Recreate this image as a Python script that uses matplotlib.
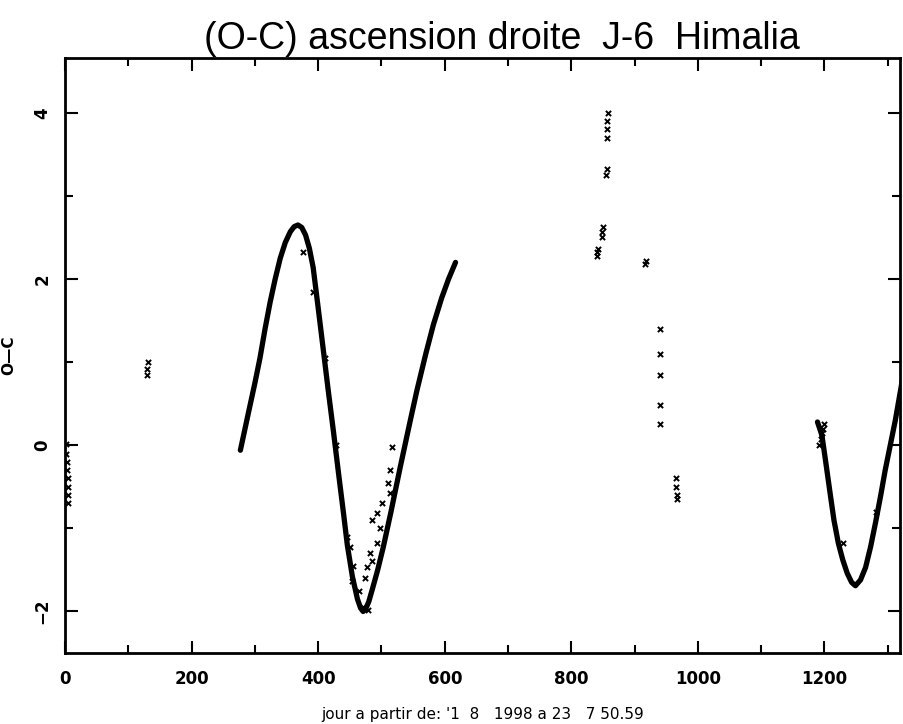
import numpy as np
import matplotlib.pyplot as plt

# fitted curve, first arc (days, O-C)
fit1_x = [277, 290, 300, 308, 316, 324, 332, 340, 348, 356, 362, 368, 374, 380,
          386, 392, 400, 408, 416, 424, 432, 440, 446, 454, 462, 467, 471, 475,
          480, 486, 494, 503, 515, 530, 545, 556, 570, 582, 595, 606, 617]
fit1_y = [-0.06, 0.4, 0.75, 1.05, 1.4, 1.72, 2.0, 2.25, 2.44, 2.57, 2.63, 2.65,
          2.62, 2.53, 2.37, 2.14, 1.65, 1.15, 0.65, 0.17, -0.33, -0.82, -1.2,
          -1.58, -1.85, -1.96, -2.0, -1.97, -1.88, -1.72, -1.5, -1.22, -0.8,
          -0.25, 0.28, 0.66, 1.1, 1.45, 1.77, 2.0, 2.2]

# fitted curve, second arc
fit2_x = [1189, 1196, 1202, 1209, 1215, 1222, 1229, 1236, 1243, 1249, 1257,
          1265, 1273, 1281, 1289, 1296, 1304, 1312, 1323, 1330]
fit2_y = [0.28, 0.12, -0.2, -0.58, -0.9, -1.18, -1.38, -1.54, -1.65, -1.69,
          -1.62, -1.47, -1.22, -0.92, -0.6, -0.3, 0.0, 0.3, 0.78, 1.05]

# observations
obs_x = [2, 2, 3, 3, 4, 4, 5, 5,
         130, 130, 131,
         376, 392, 410, 428, 445, 450, 453, 455, 465, 470, 474, 477, 478,
         482, 485, 485, 493, 493, 498, 501, 511, 513, 514, 517,
         840, 841, 842, 848, 849, 850, 855, 856, 856, 857, 857, 858,
         917, 918, 940, 940, 940, 940, 940,
         966, 966, 967, 967,
         1192, 1194, 1196, 1198, 1200, 1230, 1281]
obs_y = [0.02, -0.1, -0.2, -0.3, -0.4, -0.5, -0.6, -0.7,
         0.85, 0.92, 1.0,
         2.33, 1.84, 1.05, 0.0, -1.1, -1.23, -1.63, -1.45, -1.75, -1.95, -1.6, -1.47, -1.98,
         -1.3, -0.9, -1.39, -0.82, -1.18, -1.0, -0.7, -0.46, -0.3, -0.58, -0.02,
         2.28, 2.32, 2.36, 2.5, 2.56, 2.62, 3.25, 3.32, 3.7, 3.8, 3.9, 4.0,
         2.18, 2.22, 1.4, 1.1, 0.85, 0.48, 0.25,
         -0.4, -0.5, -0.6, -0.65,
         0.0, 0.08, 0.15, 0.2, 0.25, -1.17, -0.8]

fig = plt.figure(figsize=(9.04, 7.24), dpi=100)
ax = fig.add_axes([0.072, 0.098, 0.924, 0.822])

ax.plot(fit1_x, fit1_y, color='black', lw=3.8, solid_capstyle='round', solid_joinstyle='round')
ax.plot(fit2_x, fit2_y, color='black', lw=3.8, solid_capstyle='round', solid_joinstyle='round')
ax.scatter(obs_x, obs_y, marker='x', s=14, color='black', linewidths=1.4, zorder=3)

ax.set_xlim(0, 1320)
ax.set_ylim(-2.5, 4.66)
ax.set_xticks([0, 200, 400, 600, 800, 1000, 1200])
ax.set_xticks(np.arange(100, 1400, 200), minor=True)
ax.set_yticks([-2, 0, 2, 4])
ax.set_yticks([-1, 1, 3], minor=True)
ax.tick_params(which='both', direction='in', top=True, right=True, width=1.5)
ax.tick_params(which='major', length=9)
ax.tick_params(which='minor', length=6)
ax.tick_params(axis='x', pad=12)
ax.tick_params(axis='y', pad=10)
for lbl in ax.get_xticklabels():
    lbl.set_fontweight('bold')
    lbl.set_fontsize(12)
for lbl in ax.get_yticklabels():
    lbl.set_fontweight('bold')
    lbl.set_fontsize(12)
    lbl.set_rotation(90)
    lbl.set_va('center')
for s in ax.spines.values():
    s.set_linewidth(2)

ax.set_xlabel("jour a partir de: '1  8   1998 a 23   7 50.59", fontsize=11, labelpad=14)
ax.set_ylabel("O\u2014C", fontsize=11, fontweight='bold', labelpad=12)

fig.text(0.555, 0.946, "(O-C) ascension droite  J-6  Himalia", ha='center', va='center',
         fontsize=27, family='Liberation Sans')

fig.savefig('out.png', dpi=100)
